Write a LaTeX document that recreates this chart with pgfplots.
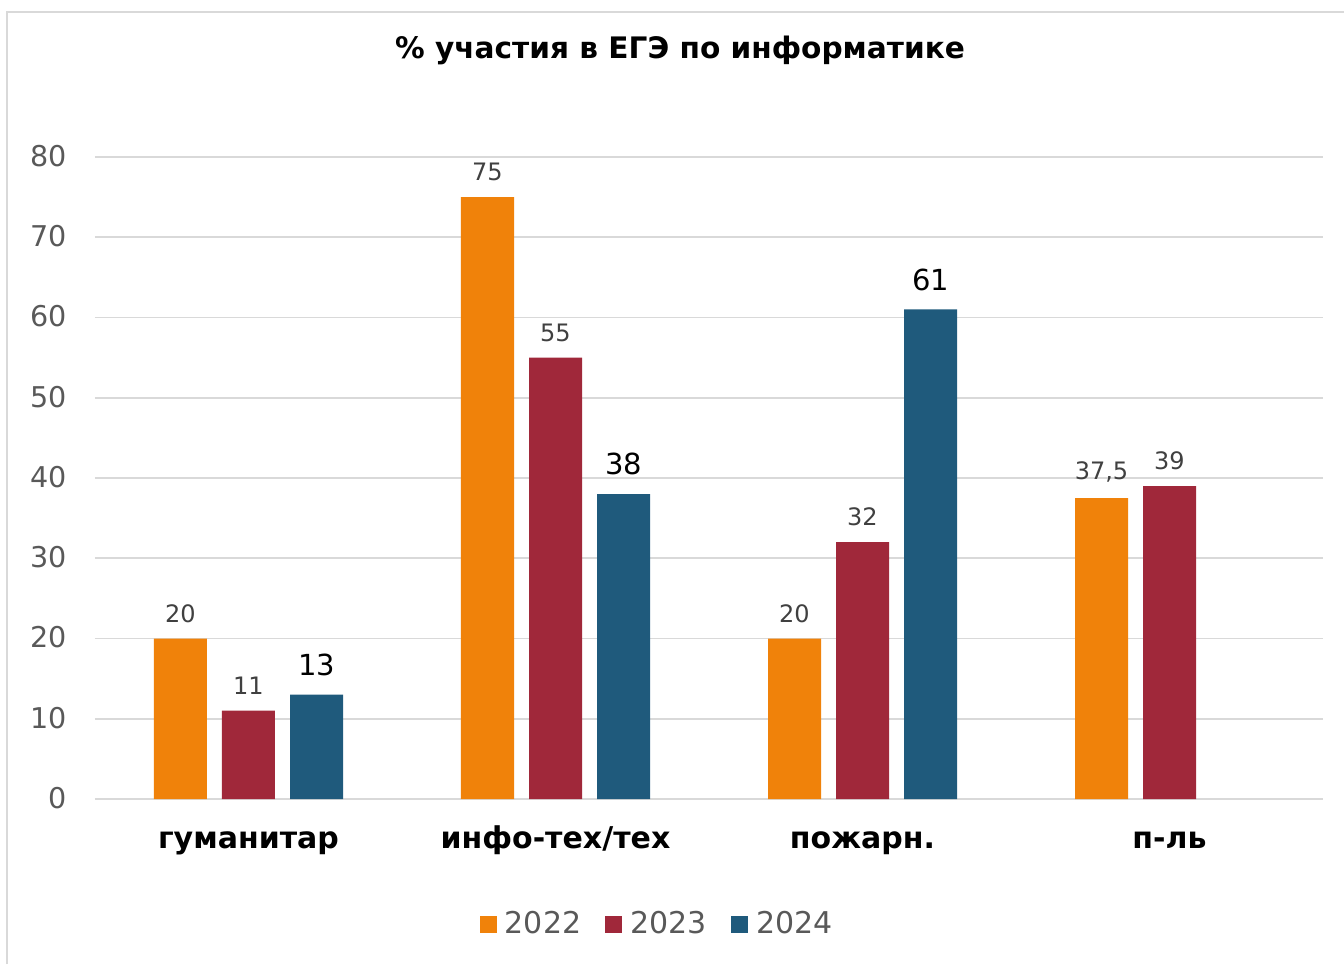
\documentclass[border=0pt]{standalone}
\usepackage{pgfplots}
\pgfplotsset{compat=1.18}
\usepackage{fontspec}
\setmainfont{DejaVu Sans}
\definecolor{c22}{HTML}{F0820A}
\definecolor{c23}{HTML}{A0283A}
\definecolor{c24}{HTML}{1F5A7C}
\definecolor{tgray}{HTML}{595959}
\definecolor{lgray}{HTML}{404040}
\definecolor{gridc}{HTML}{D9D9D9}
\begin{document}
\begin{tikzpicture}
\useasboundingbox (0,0) rectangle (672pt,482pt);
\draw[gridc,line width=1pt] (3.5pt,0pt) -- (3.5pt,476pt) -- (672pt,476pt);
\node[font=\bfseries\fontsize{14.8}{17}\selectfont,anchor=center] at (340pt,457pt) {\% участия в ЕГЭ по информатике};
\begin{axis}[
  at={(47.5pt,82.5pt)}, anchor=south west,
  width=614pt, height=321pt, scale only axis,
  xmin=-0.5, xmax=3.5, ymin=0, ymax=80,
  ybar=7.5pt, bar width=26.5pt,
  xtick={0,1,2,3},
  xticklabels={гуманитар,инфо-тех/тех,пожарн.,п-ль},
  typeset ticklabels with strut,
  xticklabel style={font=\bfseries\fontsize{15}{17}\selectfont, text=black, yshift=-9.5pt},
  ytick={0,10,...,80},
  yticklabel style={font=\fontsize{14.3}{16}\selectfont, text=tgray, xshift=-10.5pt, yshift=-1.5pt},
  /pgf/number format/assume math mode=true,
  major tick length=0pt,
  ymajorgrids, grid style={gridc,line width=0.8pt},
  axis x line*=bottom, axis y line*=left,
  x axis line style={gridc,line width=1pt},
  y axis line style={draw=none},
  legend style={at={(0.4585,-0.195)},anchor=center, draw=none,
    legend columns=-1, font=\fontsize{15}{17}\selectfont, text=tgray,
    /tikz/every odd column/.append style={column sep=2pt},
    /tikz/every even column/.append style={column sep=10pt}},
  legend image code/.code={\fill[#1] (0pt,-4.3pt) rectangle (8.6pt,4.3pt);},
  nodes near coords,
  every node near coord/.append style={font=\fontsize{12}{14}\selectfont, text=lgray, yshift=4.5pt},
  /pgf/number format/use comma,
]
\addplot[fill=c22,draw=none] coordinates {(0,20) (1,75) (2,20) (3,37.5)};
\addplot[fill=c23,draw=none] coordinates {(0,11) (1,55) (2,32) (3,39)};
\addplot[fill=c24,draw=none,
  every node near coord/.append style={font=\fontsize{14.5}{16}\selectfont, text=black, yshift=1.5pt}]
  coordinates {(0,13) (1,38) (2,61)};
\legend{2022,2023,2024}
\end{axis}
\end{tikzpicture}
\end{document}
